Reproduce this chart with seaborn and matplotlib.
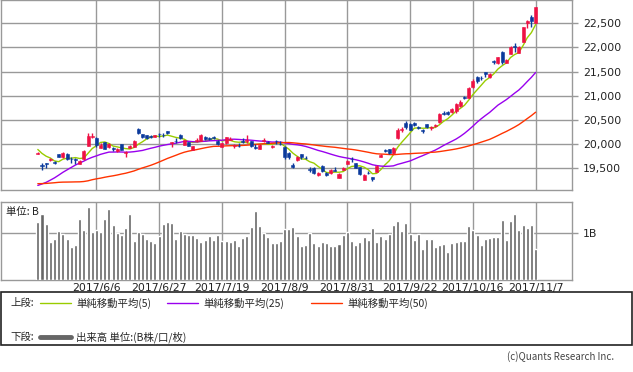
import numpy as np
import pandas as pd
import matplotlib
matplotlib.use("Agg")
import matplotlib.pyplot as plt
import seaborn as sns
from matplotlib.patches import Rectangle

sns.set_style("white")
plt.rcParams['font.family'] = ['Noto Sans CJK JP', 'DejaVu Sans']

# closes before the visible range (needed for the 25/50 day averages)
prior_close = [19469, 19379, 19344, 19254, 19318, 19604, 19633, 19609, 19577, 19590,
               19521, 19455, 19041, 19085, 19262, 18985, 19202, 19217, 19063, 18909,
               18983, 18810, 18861, 18597, 18664, 18797, 18747, 18552, 18426, 18335,
               18355, 18418, 18432, 18430, 18620, 18875, 19079, 19289, 19251, 19196,
               19310, 19445, 19895, 19843, 19900, 19961, 19883, 19869, 19919]

opens = [19800, 19570, 19600, 19665, 19640, 19795, 19730, 19800, 19690, 19685,
         19595, 19690, 19965, 20140, 20135, 19930, 20045, 19935, 19915, 19850,
         19995, 19820, 19915, 19950, 20320, 20205, 20185, 20160, 20145, 20210,
         20195, 20270, 20025, 20070, 20195, 19985, 20045, 19880, 20070, 20070,
         20150, 20130, 20140, 20070, 19950, 20020, 20095, 19970, 19965, 20060,
         20070, 20060, 19940, 19900, 20070, 20040, 19950, 20060, 20010, 19950,
         19820, 19560, 19672, 19790, 19720, 19490, 19500, 19362, 19540, 19405,
         19400, 19460, 19300, 19470, 19590, 19700, 19600, 19520, 19260, 19410,
         19320, 19430, 19740, 19880, 19890, 19815, 20120, 20300, 20440, 20420,
         20440, 20345, 20290, 20410, 20340, 20365, 20450, 20640, 20660, 20670,
         20680, 20790, 20965, 20960, 21180, 21390, 21370, 21490, 21380, 21720,
         21670, 21900, 21680, 21870, 22020, 21890, 22120, 22510, 22620, 22510]
highs = [19830, 19603, 19616, 19710, 19660, 19800, 19845, 19820, 19740, 19707,
         19665, 19879, 20236, 20220, 20141, 20017, 20050, 20017, 19947, 19914,
         20003, 19865, 19982, 20086, 20327, 20210, 20189, 20189, 20189, 20236,
         20227, 20272, 20050, 20120, 20203, 20090, 20050, 19961, 20120, 20203,
         20170, 20150, 20165, 20080, 20030, 20155, 20141, 20003, 20017, 20120,
         20189, 20071, 20003, 19996, 20120, 20071, 19982, 20086, 20071, 19960,
         19830, 19603, 19760, 19800, 19754, 19533, 19533, 19423, 19560, 19420,
         19479, 19533, 19397, 19533, 19680, 19740, 19616, 19533, 19382, 19450,
         19330, 19569, 19796, 19900, 19900, 19934, 20327, 20348, 20480, 20440,
         20450, 20374, 20307, 20420, 20374, 20416, 20640, 20692, 20686, 20741,
         20850, 20911, 20996, 21176, 21340, 21400, 21410, 21500, 21480, 21740,
         21810, 21920, 21760, 22020, 22086, 22020, 22430, 22560, 22672, 22845]
lows = [19790, 19465, 19500, 19650, 19580, 19730, 19720, 19680, 19616, 19589,
        19580, 19680, 19955, 20117, 19947, 19914, 19893, 19925, 19864, 19843,
        19875, 19740, 19910, 19947, 20210, 20121, 20110, 20121, 20141, 20155,
        20145, 20200, 19947, 20017, 20110, 19980, 19955, 19875, 20050, 20065,
        20080, 20080, 20100, 19980, 19940, 20010, 20080, 19914, 19934, 20030,
        20017, 19947, 19893, 19890, 20050, 20017, 19930, 20003, 19990, 19686,
        19700, 19500, 19660, 19700, 19686, 19430, 19380, 19350, 19420, 19350,
        19390, 19440, 19290, 19460, 19580, 19637, 19500, 19370, 19250, 19382,
        19240, 19420, 19730, 19840, 19790, 19800, 20110, 20257, 20320, 20290,
        20370, 20307, 20224, 20340, 20300, 20350, 20440, 20603, 20603, 20640,
        20640, 20770, 20927, 20948, 21170, 21270, 21327, 21383, 21360, 21660,
        21650, 21660, 21670, 21860, 21912, 21880, 22110, 22400, 22430, 22500]
closes = [19815, 19554, 19591, 19685, 19613, 19743, 19813, 19690, 19683, 19678,
          19651, 19860, 20177, 20175, 19980, 19985, 19909, 20013, 19909, 19899,
          19884, 19832, 19970, 20068, 20230, 20139, 20125, 20150, 20180, 20200,
          20185, 20220, 20033, 20056, 20125, 20080, 19965, 19955, 20080, 20195,
          20098, 20100, 20119, 20004, 20021, 20145, 20100, 19976, 19955, 20050,
          20080, 19960, 19925, 19986, 20080, 20029, 19960, 20056, 19996, 19739,
          19730, 19537, 19740, 19729, 19703, 19470, 19393, 19400, 19435, 19365,
          19460, 19450, 19380, 19507, 19660, 19691, 19508, 19386, 19370, 19397,
          19275, 19546, 19777, 19866, 19807, 19910, 20299, 20310, 20347, 20300,
          20398, 20330, 20267, 20363, 20356, 20401, 20614, 20627, 20629, 20735,
          20823, 20881, 20955, 21155, 21310, 21310, 21363, 21448, 21457, 21696,
          21805, 21707, 21740, 22008, 22012, 22012, 22420, 22550, 22548, 22840]
volume = [1.24, 1.41, 1.20, 0.81, 0.88, 1.05, 0.99, 0.88, 0.71, 0.75,
          1.31, 1.07, 1.56, 1.03, 1.07, 1.03, 1.31, 1.52, 1.18, 1.01,
          0.96, 1.11, 1.41, 0.84, 1.03, 0.99, 0.88, 0.84, 0.79, 0.94,
          1.20, 1.24, 1.22, 0.88, 1.05, 0.99, 0.96, 0.96, 0.90, 0.81,
          0.86, 0.94, 0.86, 0.96, 0.84, 0.84, 0.81, 0.86, 0.73, 0.90,
          0.94, 1.14, 1.48, 1.16, 1.01, 0.92, 0.79, 0.79, 0.84, 1.09,
          1.09, 1.14, 0.94, 0.73, 0.75, 1.01, 0.79, 0.73, 0.81, 0.79,
          0.73, 0.73, 0.77, 0.96, 1.03, 0.84, 0.75, 0.81, 0.92, 0.86,
          1.11, 0.81, 0.94, 0.88, 0.99, 1.18, 1.26, 1.05, 1.22, 0.99,
          0.86, 0.99, 0.66, 0.88, 0.88, 0.71, 0.75, 0.77, 0.60, 0.79,
          0.81, 0.84, 0.84, 1.16, 1.07, 0.96, 0.75, 0.88, 0.90, 0.92,
          0.92, 1.29, 0.86, 1.26, 1.41, 1.07, 1.18, 1.11, 1.18, 0.66]

jp_holidays = ['2017-07-17', '2017-08-11', '2017-09-18', '2017-10-09', '2017-11-03']
dates = pd.bdate_range('2017-05-17', '2017-11-07', freq='C', holidays=jp_holidays)
tick_dates = ['2017-06-06', '2017-06-27', '2017-07-19', '2017-08-09',
              '2017-08-31', '2017-09-22', '2017-10-16', '2017-11-07']
tick_labels = ['2017/6/6', '2017/6/27', '2017/7/19', '2017/8/9',
               '2017/8/31', '2017/9/22', '2017/10/16', '2017/11/7']

df = pd.DataFrame({'o': opens, 'h': highs, 'l': lows, 'c': closes, 'v': volume}, index=dates)
df['x'] = np.arange(len(df))
allc = pd.Series(prior_close + closes)
n0 = len(prior_close)
df['ma5'] = allc.rolling(5).mean().iloc[n0:].values
df['ma25'] = allc.rolling(25).mean().iloc[n0:].values
df['ma50'] = allc.rolling(50).mean().iloc[n0:].values
tick_x = [int(df.index.get_loc(pd.Timestamp(d))) for d in tick_dates]

RED = '#ee1144'
BLUE = '#0b3a9c'
GRID = '#999999'
NUMFONT = ['DejaVu Sans']

fig = plt.figure(figsize=(6.33, 3.72), dpi=100)
W, H = 633, 372
ax = fig.add_axes([1 / W, 1 - 190 / H, 571 / W, 190 / H])
axv = fig.add_axes([1 / W, 1 - 280 / H, 571 / W, 78.3 / H])

xlim = (-8.8, 127.7)
for a in (ax, axv):
    a.set_xlim(*xlim)
    a.set_xticks(tick_x)
    a.grid(True, color=GRID, lw=1.0)
    a.set_axisbelow(True)
    for s in a.spines.values():
        s.set_color(GRID)
        s.set_linewidth(1.0)
    a.yaxis.tick_right()
    a.tick_params(axis='y', colors=GRID, length=4, width=1, labelcolor='#222222', pad=4)
    a.tick_params(axis='x', length=0)

# moving averages
sns.lineplot(x=df['x'], y=df['ma5'], color='#99cc00', lw=1, ax=ax)
sns.lineplot(x=df['x'], y=df['ma25'], color='#9900ee', lw=1, ax=ax)
sns.lineplot(x=df['x'], y=df['ma50'], color='#ff3300', lw=1, ax=ax)

# candles
col = np.where(df['c'] >= df['o'], RED, BLUE)
ax.vlines(df['x'], df['l'], df['h'], colors=col, lw=1.0, zorder=3)
body = (df['c'] - df['o']).abs().clip(lower=10)
ax.bar(df['x'], body, bottom=np.minimum(df['o'], df['c']), width=0.72,
       color=col, edgecolor=col, lw=0.4, zorder=4)

yt = [19500, 20000, 20500, 21000, 21500, 22000, 22500]
ax.set_ylim(19051, 22982)
ax.set_yticks(yt)
ax.set_yticklabels([f'{v:,}' for v in yt], fontsize=7.8, family=NUMFONT)
ax.set_xticklabels([])
ax.set_xlabel('')
ax.set_ylabel('')

# volume
axv.bar(df['x'], df['v'], width=0.72, color='#666666', zorder=3)
axv.set_ylim(0, 1.677)
axv.set_yticks([1.0])
axv.set_yticklabels(['1B'], fontsize=7.8, family=NUMFONT)
axv.set_xticklabels(tick_labels, fontsize=7.8, color='#222222', family=NUMFONT)
axv.tick_params(axis='x', pad=2)
axv.text(5 / 571, 0.93, '単位: B', transform=axv.transAxes, fontsize=7.5,
         va='top', ha='left', color='#222222')

# legend box
fig.patches.append(Rectangle((0.5 / W, 1 - 345 / H), 631.5 / W, 53 / H,
                             transform=fig.transFigure, fill=False, ec='#222222', lw=1.2))
y1, y2 = 1 - 303 / H, 1 - 337 / H
fs = 7.5
fig.text(10 / W, y1, '上段:', fontsize=fs, va='center')
fig.text(10 / W, y2, '下段:', fontsize=fs, va='center')
items = [(40, '#99cc00', '単純移動平均(5)'), (167, '#9900ee', '単純移動平均(25)'),
         (311, '#ff3300', '単純移動平均(50)')]
for x0, c, lab in items:
    fig.lines.append(plt.Line2D([x0 / W, (x0 + 31) / W], [y1, y1], transform=fig.transFigure,
                                color=c, lw=1))
    fig.text((x0 + 36) / W, y1, lab, fontsize=fs, va='center')
fig.lines.append(plt.Line2D([40 / W, 71 / W], [y2, y2], transform=fig.transFigure,
                            color='#666666', lw=3.5))
fig.text(76 / W, y2, '出来高 単位:(B株/口/枚)', fontsize=fs, va='center')
fig.text(614 / W, 1 - 357 / H, '(c)Quants Research Inc.', fontsize=7, ha='right',
         va='center', color='#444444')

fig.savefig('out.png', dpi=100)
